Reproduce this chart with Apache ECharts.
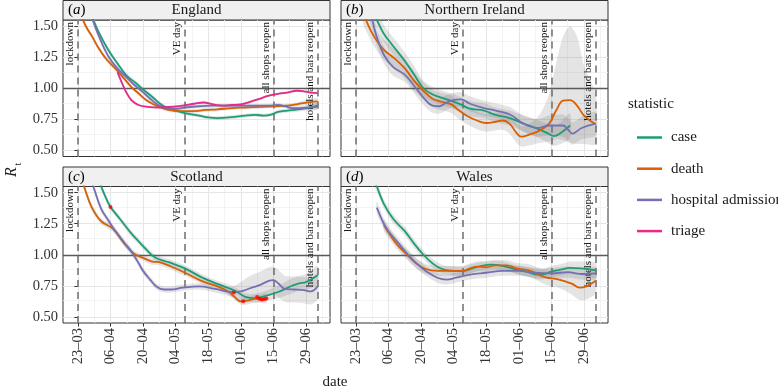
<!DOCTYPE html>
<html>
<head>
<meta charset="utf-8">
<script src="https://cdn.jsdelivr.net/npm/echarts@6/dist/echarts.min.js"></script>
<style>
  html, body { margin: 0; padding: 0; background: #fff; }
  #chart { width: 778px; height: 390px; }
</style>
</head>
<body>
<div id="chart"></div>
<script>
// days counted from 23-03; rows are [day, R, lower, upper]
const tickDays = [0, 14, 28, 42, 56, 70, 84, 98];
const tickLabels = ['23–03', '06–04', '20–04', '04–05', '18–05', '01–06', '15–06', '29–06'];
const yTicks = [0.5, 0.75, 1, 1.25, 1.5];
const eventDays = [0, 46, 84, 103];
const eventNames = ['lockdown', 'VE day', 'all shops reopen', 'hotels and bars reopen'];
const statistics = ['case', 'death', 'hospital admission', 'triage'];
const statColors = ['#1B9E77', '#D95F02', '#7570B3', '#E7298A'];

const englandCase = [[3,1.72,1.68,1.76],[6,1.58,1.55,1.61],[9,1.45,1.43,1.47],[13,1.31,1.29,1.33],[17,1.20,1.18,1.22],[21,1.10,1.08,1.12],[25,1.04,1.02,1.06],[28,0.99,0.97,1.01],[32,0.93,0.91,0.95],[35,0.88,0.865,0.895],[38,0.845,0.83,0.86],[42,0.82,0.805,0.835],[46,0.80,0.785,0.815],[52,0.78,0.765,0.795],[56,0.765,0.75,0.78],[60,0.76,0.745,0.775],[66,0.767,0.752,0.782],[72,0.78,0.765,0.795],[76,0.785,0.77,0.80],[80,0.78,0.765,0.795],[83,0.787,0.772,0.802],[86,0.81,0.795,0.825],[90,0.82,0.805,0.835],[94,0.827,0.81,0.845],[98,0.84,0.82,0.86],[103,0.86,0.835,0.885]];
const englandDeath = [[0,1.70,1.66,1.74],[2,1.56,1.53,1.59],[4,1.48,1.46,1.50],[6,1.42,1.40,1.44],[9,1.32,1.30,1.34],[12,1.24,1.22,1.26],[16,1.16,1.145,1.175],[20,1.075,1.06,1.09],[23,1.01,0.995,1.025],[26,0.96,0.945,0.975],[29,0.91,0.895,0.925],[32,0.875,0.86,0.89],[35,0.85,0.835,0.865],[39,0.825,0.81,0.84],[44,0.815,0.80,0.83],[49,0.815,0.80,0.83],[55,0.825,0.81,0.84],[60,0.83,0.815,0.845],[66,0.84,0.825,0.855],[72,0.845,0.83,0.86],[78,0.85,0.835,0.865],[84,0.855,0.84,0.87],[90,0.86,0.845,0.875],[94,0.87,0.855,0.885],[98,0.885,0.865,0.905],[103,0.895,0.87,0.92]];
const englandHosp = [[3,1.72,1.68,1.76],[6,1.57,1.54,1.60],[9,1.42,1.40,1.44],[13,1.26,1.24,1.28],[17,1.16,1.145,1.175],[21,1.085,1.07,1.10],[24,1.03,1.015,1.045],[26,1.00,0.985,1.015],[29,0.95,0.935,0.965],[32,0.90,0.885,0.915],[35,0.86,0.845,0.875],[38,0.84,0.825,0.855],[42,0.835,0.82,0.85],[46,0.845,0.83,0.86],[52,0.855,0.84,0.87],[58,0.86,0.845,0.875],[64,0.86,0.845,0.875],[70,0.86,0.845,0.875],[76,0.86,0.845,0.875],[82,0.86,0.845,0.875],[86,0.865,0.85,0.88],[89,0.855,0.84,0.87],[92,0.84,0.825,0.855],[96,0.84,0.825,0.855],[100,0.845,0.825,0.865],[103,0.85,0.825,0.875]];
const englandTriage = [[17,1.13,1.11,1.15],[19,1.04,1.025,1.055],[21,0.96,0.945,0.975],[23,0.905,0.89,0.92],[26,0.865,0.855,0.875],[30,0.85,0.84,0.86],[35,0.845,0.835,0.855],[40,0.85,0.84,0.86],[45,0.86,0.85,0.87],[50,0.875,0.865,0.885],[54,0.885,0.875,0.895],[58,0.87,0.86,0.88],[62,0.86,0.85,0.87],[66,0.865,0.855,0.875],[70,0.87,0.86,0.88],[74,0.89,0.88,0.90],[78,0.915,0.905,0.925],[82,0.94,0.93,0.95],[86,0.955,0.945,0.965],[90,0.965,0.955,0.975],[94,0.98,0.97,0.99],[97,0.975,0.965,0.985],[100,0.965,0.955,0.975],[103,0.96,0.95,0.97]];

const niCase = [[7,1.62,1.54,1.70],[9,1.55,1.48,1.62],[12,1.44,1.37,1.51],[16,1.34,1.27,1.41],[21,1.22,1.15,1.29],[25,1.11,1.04,1.18],[29,1.00,0.94,1.06],[33,0.95,0.89,1.01],[39,0.91,0.85,0.97],[45,0.87,0.81,0.93],[49,0.835,0.775,0.895],[55,0.82,0.76,0.88],[60,0.785,0.725,0.845],[66,0.76,0.70,0.82],[72,0.715,0.65,0.78],[78,0.675,0.605,0.745],[82,0.64,0.565,0.715],[85,0.615,0.535,0.695],[88,0.64,0.55,0.73],[92,0.70,0.60,0.80]];
const niDeath = [[3,1.62,1.53,1.71],[5,1.52,1.44,1.60],[8,1.41,1.33,1.49],[12,1.31,1.23,1.39],[16,1.25,1.17,1.33],[21,1.16,1.08,1.24],[25,1.06,0.98,1.14],[29,0.98,0.91,1.05],[33,0.915,0.845,0.985],[37,0.89,0.82,0.96],[41,0.87,0.80,0.94],[44,0.825,0.755,0.895],[48,0.775,0.705,0.845],[52,0.74,0.67,0.81],[56,0.72,0.65,0.79],[60,0.73,0.66,0.80],[63,0.74,0.665,0.815],[66,0.715,0.635,0.795],[69,0.64,0.56,0.72],[71,0.61,0.53,0.69],[75,0.63,0.54,0.72],[79,0.66,0.56,0.79],[83,0.715,0.57,0.95],[86,0.82,0.59,1.20],[89,0.90,0.58,1.42],[92,0.905,0.56,1.50],[95,0.86,0.55,1.42],[98,0.78,0.55,1.18],[103,0.71,0.55,0.95]];
const niHosp = [[5,1.68,1.60,1.76],[7,1.55,1.48,1.62],[9,1.41,1.34,1.48],[12,1.27,1.20,1.34],[16,1.17,1.10,1.24],[21,1.11,1.05,1.17],[25,1.02,0.96,1.08],[29,0.925,0.865,0.985],[33,0.86,0.80,0.92],[36,0.855,0.795,0.915],[38,0.875,0.815,0.935],[41,0.90,0.84,0.96],[45,0.91,0.85,0.97],[49,0.875,0.815,0.935],[55,0.84,0.78,0.90],[60,0.82,0.76,0.88],[66,0.79,0.73,0.85],[72,0.715,0.65,0.78],[78,0.68,0.61,0.75],[83,0.70,0.62,0.78],[89,0.70,0.61,0.79],[91,0.67,0.58,0.76],[93,0.635,0.545,0.725],[97,0.68,0.59,0.77],[103,0.715,0.62,0.81]];

const scotCase = [[8,1.65,1.61,1.69],[10,1.55,1.52,1.58],[12,1.46,1.43,1.49],[14,1.385,1.36,1.41],[18,1.29,1.265,1.315],[23,1.17,1.145,1.195],[26,1.11,1.085,1.135],[29,1.05,1.025,1.075],[33,0.98,0.955,1.005],[39,0.94,0.915,0.965],[46,0.89,0.865,0.915],[53,0.82,0.795,0.845],[60,0.765,0.74,0.79],[65,0.73,0.70,0.76],[68,0.705,0.675,0.735],[72,0.66,0.63,0.69],[76,0.65,0.615,0.685],[80,0.665,0.625,0.705],[86,0.70,0.65,0.75],[92,0.75,0.69,0.81],[95,0.77,0.71,0.83],[98,0.78,0.715,0.845],[103,0.835,0.76,0.91]];
const scotDeath = [[1,1.65,1.61,1.69],[3,1.53,1.50,1.56],[6,1.38,1.355,1.405],[10,1.27,1.245,1.295],[15,1.21,1.185,1.235],[20,1.09,1.065,1.115],[24,1.01,0.985,1.035],[28,0.975,0.95,1.00],[32,0.945,0.92,0.97],[35,0.94,0.915,0.965],[40,0.905,0.88,0.93],[46,0.855,0.83,0.88],[53,0.79,0.765,0.815],[60,0.745,0.72,0.77],[64,0.71,0.685,0.735],[67,0.665,0.64,0.69],[70,0.625,0.60,0.65],[73,0.63,0.60,0.66],[76,0.645,0.615,0.675],[79,0.645,0.61,0.68],[81,0.65,0.61,0.69]];
const scotHosp = [[5,1.65,1.61,1.69],[7,1.53,1.50,1.56],[10,1.37,1.345,1.395],[13,1.28,1.255,1.305],[15,1.22,1.195,1.245],[20,1.095,1.07,1.12],[23,1.025,1.00,1.05],[26,0.935,0.91,0.96],[28,0.87,0.845,0.895],[31,0.80,0.775,0.825],[34,0.74,0.715,0.765],[37,0.72,0.695,0.745],[40,0.72,0.695,0.745],[45,0.735,0.71,0.76],[52,0.745,0.72,0.77],[59,0.725,0.695,0.755],[66,0.70,0.66,0.74],[70,0.705,0.63,0.78],[74,0.73,0.63,0.83],[78,0.755,0.65,0.86],[82,0.79,0.68,0.90],[84,0.795,0.685,0.905],[86,0.77,0.66,0.88],[89,0.725,0.62,0.83],[93,0.72,0.615,0.825],[97,0.715,0.61,0.82],[100,0.705,0.60,0.81],[103,0.745,0.64,0.85]];
const scotFlags = [[14,1.385],[67,0.695],[71,0.625],[77,0.66],[78,0.645],[79,0.64],[80,0.642],[81,0.648]];

const walesCase = [[8,1.60,1.55,1.65],[9,1.55,1.51,1.59],[12,1.41,1.375,1.445],[16,1.29,1.255,1.325],[21,1.19,1.155,1.225],[25,1.09,1.055,1.125],[29,1.00,0.965,1.035],[33,0.93,0.895,0.965],[37,0.885,0.85,0.92],[42,0.87,0.835,0.905],[46,0.87,0.835,0.905],[50,0.89,0.855,0.925],[54,0.91,0.875,0.945],[58,0.92,0.885,0.955],[63,0.91,0.875,0.945],[68,0.885,0.85,0.92],[74,0.86,0.82,0.90],[78,0.84,0.80,0.88],[80,0.84,0.80,0.88],[84,0.865,0.82,0.91],[88,0.88,0.835,0.925],[92,0.895,0.845,0.945],[97,0.89,0.835,0.945],[103,0.875,0.815,0.935]];
const walesDeath = [[12,1.24,1.19,1.29],[14,1.18,1.135,1.225],[18,1.075,1.035,1.115],[22,1.00,0.96,1.04],[26,0.93,0.89,0.97],[30,0.885,0.845,0.925],[35,0.87,0.83,0.91],[40,0.87,0.83,0.91],[46,0.87,0.83,0.91],[49,0.89,0.85,0.93],[52,0.905,0.865,0.945],[56,0.90,0.86,0.94],[60,0.915,0.875,0.955],[65,0.915,0.875,0.955],[69,0.89,0.845,0.935],[75,0.87,0.82,0.92],[79,0.835,0.78,0.89],[82,0.815,0.755,0.875],[86,0.805,0.74,0.87],[90,0.785,0.71,0.86],[93,0.765,0.675,0.855],[96,0.735,0.635,0.835],[99,0.745,0.64,0.85],[103,0.79,0.69,0.89]];
const walesHosp = [[9,1.38,1.33,1.43],[12,1.25,1.21,1.29],[14,1.19,1.15,1.23],[18,1.10,1.06,1.14],[22,1.01,0.97,1.05],[26,0.93,0.89,0.97],[30,0.87,0.83,0.91],[35,0.815,0.775,0.855],[39,0.80,0.76,0.84],[43,0.815,0.775,0.855],[49,0.84,0.80,0.88],[56,0.855,0.815,0.895],[63,0.87,0.83,0.91],[70,0.87,0.83,0.91],[77,0.855,0.815,0.895],[84,0.85,0.805,0.895],[91,0.86,0.815,0.905],[97,0.845,0.80,0.89],[103,0.85,0.80,0.90]];

const FONT = 'Liberation Serif';
const PW = 267, PH = 136.5, STRIP = 19.5;
const X_MIN = -6.4, X_MAX = 108.3, Y_MIN = 0.45, Y_MAX = 1.55;

const panels = [
  { name: 'England', tag: 'a', left: 63, top: 20, lines: [englandCase, englandDeath, englandHosp, englandTriage] },
  { name: 'Northern Ireland', tag: 'b', left: 341, top: 20, lines: [niCase, niDeath, niHosp, null] },
  { name: 'Scotland', tag: 'c', left: 63, top: 186.5, lines: [scotCase, scotDeath, scotHosp, null], flags: scotFlags },
  { name: 'Wales', tag: 'd', left: 341, top: 186.5, lines: [walesCase, walesDeath, walesHosp, null] }
];

// grid lines: major at ticks, minor half way between
const xMinor = tickDays.map(d => d + 7);
const yMinor = yTicks.slice(0, -1).map((v, i) => (v + yTicks[i + 1]) / 2);

const grids = [], xAxes = [], yAxes = [], series = [], graphics = [];

panels.forEach((p, i) => {
  const bottom = i >= 2, leftSide = i % 2 === 0;
  grids.push({ left: p.left, top: p.top, width: PW, height: PH, show: true,
    backgroundColor: '#fff', borderColor: '#333', borderWidth: 1 });
  xAxes.push({
    gridIndex: i, type: 'value', min: X_MIN, max: X_MAX,
    axisLine: { show: false }, splitLine: { show: false },
    axisTick: { show: bottom, customValues: tickDays, length: 3.5, lineStyle: { color: '#333' } },
    axisLabel: { show: bottom, customValues: tickDays, rotate: 90, margin: 5,
      fontFamily: FONT, fontSize: 14.5, color: '#333',
      formatter: v => tickLabels[tickDays.indexOf(v)] }
  });
  yAxes.push({
    gridIndex: i, type: 'value', min: Y_MIN, max: Y_MAX,
    axisLine: { show: false }, splitLine: { show: false },
    axisTick: { show: leftSide, customValues: yTicks, length: 3.5, lineStyle: { color: '#333' } },
    axisLabel: { show: leftSide, customValues: yTicks, margin: 5,
      fontFamily: FONT, fontSize: 14.5, color: '#333', formatter: v => v.toFixed(2) }
  });

  // background grid
  series.push({
    type: 'line', xAxisIndex: i, yAxisIndex: i, data: [], silent: true, z: 0,
    markLine: { silent: true, z: 0, symbol: ['none', 'none'], label: { show: false }, animation: false,
      data: [
        ...xMinor.map(d => ({ xAxis: d, lineStyle: { color: '#F0F0F0', width: 0.8, type: 'solid' } })),
        ...yMinor.map(v => ({ yAxis: v, lineStyle: { color: '#F0F0F0', width: 0.8, type: 'solid' } })),
        ...tickDays.map(d => ({ xAxis: d, lineStyle: { color: '#E6E6E6', width: 1.1, type: 'solid' } })),
        ...yTicks.map(v => ({ yAxis: v, lineStyle: { color: '#E6E6E6', width: 1.1, type: 'solid' } }))
      ] }
  });

  // ribbons
  p.lines.forEach(rows => {
    if (!rows) return;
    series.push({
      type: 'custom', xAxisIndex: i, yAxisIndex: i, clip: true, silent: true, z: 1,
      data: [0],
      renderItem: (params, api) => {
        const up = rows.map(r => api.coord([r[0], r[3]]));
        const lo = rows.map(r => api.coord([r[0], r[2]])).reverse();
        return { type: 'polygon', shape: { points: up.concat(lo), smooth: 0.25 },
          style: { fill: 'rgba(120,120,120,0.2)' } };
      }
    });
  });

  // reference lines
  series.push({
    type: 'line', xAxisIndex: i, yAxisIndex: i, data: [], silent: true, z: 2,
    markLine: { silent: true, z: 2, symbol: ['none', 'none'], animation: false,
      data: [
        { yAxis: 1, label: { show: false }, lineStyle: { color: '#5a5a5a', width: 1.3, type: 'solid' } },
        ...eventDays.map((d, k) => [
          { coord: [d, Y_MIN], lineStyle: { color: '#6e6e6e', width: 1.5, type: [7, 5] },
            label: { show: true, position: 'insideEndTop', formatter: eventNames[k],
              fontFamily: FONT, fontSize: 11, color: '#1a1a1a', distance: 2 } },
          { coord: [d, Y_MAX] }
        ])
      ] }
  });

  p.lines.forEach((rows, k) => {
    if (!rows) return;
    series.push({
      name: statistics[k], type: 'line', xAxisIndex: i, yAxisIndex: i, z: 4,
      data: rows.map(r => [r[0], r[1]]), symbol: 'none', showSymbol: false, smooth: 0.4,
      lineStyle: { width: 1.8, color: statColors[k] }, itemStyle: { color: statColors[k] }
    });
  });

  if (p.flags) {
    series.push({ type: 'scatter', name: 'flag', xAxisIndex: i, yAxisIndex: i, z: 5,
      data: p.flags, symbolSize: 4, itemStyle: { color: '#FF0000' }, silent: true });
  }

  // facet strip
  graphics.push({ type: 'rect', shape: { x: p.left, y: p.top - STRIP, width: PW, height: STRIP },
    style: { fill: '#F0F0F0', stroke: '#333', lineWidth: 1 } });
  graphics.push({ type: 'text', x: p.left + PW / 2, y: p.top - STRIP / 2,
    style: { text: p.name, font: '15px "' + FONT + '"', fill: '#1a1a1a', align: 'center', verticalAlign: 'middle' } });
  graphics.push({ type: 'text', x: p.left + 5, y: p.top - STRIP / 2,
    style: { text: '{n|(}{i|' + p.tag + '}{n|)}', verticalAlign: 'middle', align: 'left',
      rich: { n: { fontFamily: FONT, fontSize: 15, color: '#1a1a1a' },
              i: { fontFamily: FONT, fontSize: 15, fontStyle: 'italic', color: '#1a1a1a' } } } });
});

graphics.push({ type: 'text', x: 12, y: 172, rotation: Math.PI / 2,
  style: { text: 'R', font: 'italic 16px "' + FONT + '"', fill: '#1a1a1a', align: 'center', verticalAlign: 'middle' } });
graphics.push({ type: 'text', x: 18, y: 164, rotation: Math.PI / 2,
  style: { text: 't', font: '10px "' + FONT + '"', fill: '#1a1a1a', align: 'center', verticalAlign: 'middle' } });
graphics.push({ type: 'text', x: 335, y: 382,
  style: { text: 'date', font: '15px "' + FONT + '"', fill: '#1a1a1a', align: 'center', verticalAlign: 'middle' } });
graphics.push({ type: 'text', x: 628, y: 104,
  style: { text: 'statistic', font: '15px "' + FONT + '"', fill: '#1a1a1a', align: 'left', verticalAlign: 'middle' } });

const chart = echarts.init(document.getElementById('chart'), null, { renderer: 'canvas' });
chart.setOption({
  animation: false,
  backgroundColor: '#fff',
  grid: grids,
  xAxis: xAxes,
  yAxis: yAxes,
  legend: {
    data: statistics, orient: 'vertical', left: 632, top: 125,
    icon: 'rect', itemWidth: 25, itemHeight: 2.5, itemGap: 16.2, selectedMode: false,
    textStyle: { fontFamily: FONT, fontSize: 15, color: '#1a1a1a', padding: [0, 0, 0, 4] }
  },
  graphic: graphics,
  series: series
});
</script>
</body>
</html>
